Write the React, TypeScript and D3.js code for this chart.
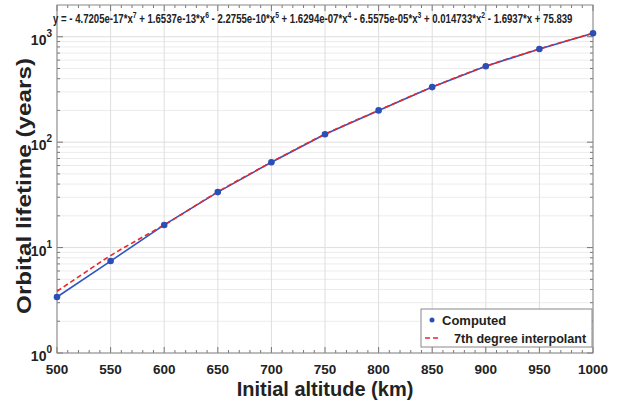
import React, { useRef, useEffect } from "react";
import * as d3 from "d3";

// computed orbital lifetime (years) vs initial altitude (km)
const altitudes = [500, 550, 600, 650, 700, 750, 800, 850, 900, 950, 1000];
const lifetimes = [3.4, 7.45, 16.4, 33.6, 64.5, 119, 200, 333, 525, 765, 1080];

// 7th degree interpolant
const fitAltitudes = [500, 525, 550, 575, 600, 650, 700, 750, 800, 850, 900, 950, 1000];
const fitLifetimes = [3.85, 5.7, 8.4, 11.8, 16.4, 33.8, 64.5, 119, 200, 333, 525, 765, 1080];

const xTicks = [500, 550, 600, 650, 700, 750, 800, 850, 900, 950, 1000];
const yDecades = [0, 1, 2, 3];

const equation =
  "y = - 4.7205e-17*x^7 + 1.6537e-13*x^6 - 2.2755e-10*x^5 + 1.6294e-07*x^4 - 6.5575e-05*x^3 + 0.014733*x^2 - 1.6937*x + 75.839";

const W = 625;
const H = 406;

const App = () => {
  const ref = useRef<SVGSVGElement>(null);

  useEffect(() => {
    const svg = d3.select(ref.current);
    svg.selectAll("*").remove();

    const left = 57, right = 593, top = 5, bottom = 353;
    const x = d3.scaleLinear([500, 1000], [left, right]);
    const y = d3.scaleLog([1, 2000], [bottom, top]);

    svg.append("rect").attr("width", W).attr("height", H).attr("fill", "white");

    // minor grid
    const minorY: number[] = [];
    yDecades.forEach(d => {
      for (let k = 2; k <= 9; k++) {
        const v = k * Math.pow(10, d);
        if (v < 2000) minorY.push(v);
      }
    });
    svg.append("g").selectAll("line").data(minorY).enter().append("line")
      .attr("x1", left).attr("x2", right)
      .attr("y1", d => y(d)).attr("y2", d => y(d))
      .attr("stroke", "#ececec").attr("stroke-width", 1);

    // major grid
    svg.append("g").selectAll("line").data(yDecades).enter().append("line")
      .attr("x1", left).attr("x2", right)
      .attr("y1", d => y(Math.pow(10, d))).attr("y2", d => y(Math.pow(10, d)))
      .attr("stroke", "#dedede");
    svg.append("g").selectAll("line").data(xTicks).enter().append("line")
      .attr("x1", d => x(d)).attr("x2", d => x(d))
      .attr("y1", top).attr("y2", bottom)
      .attr("stroke", "#dedede");

    // minor ticks on all four sides
    const minorX = d3.range(500, 1001, 10);
    const tickG = svg.append("g").attr("stroke", "#777");
    minorX.forEach(v => {
      const len = v % 50 === 0 ? 6 : 3;
      tickG.append("line").attr("x1", x(v)).attr("x2", x(v)).attr("y1", bottom).attr("y2", bottom - len);
      tickG.append("line").attr("x1", x(v)).attr("x2", x(v)).attr("y1", top).attr("y2", top + len);
    });
    minorY.concat(yDecades.map(d => Math.pow(10, d))).forEach(v => {
      const len = [1, 10, 100, 1000].includes(v) ? 6 : 3;
      tickG.append("line").attr("x1", left).attr("x2", left + len).attr("y1", y(v)).attr("y2", y(v));
      tickG.append("line").attr("x1", right).attr("x2", right - len).attr("y1", y(v)).attr("y2", y(v));
    });

    svg.append("rect")
      .attr("x", left).attr("y", top).attr("width", right - left).attr("height", bottom - top)
      .attr("fill", "none").attr("stroke", "#888");

    // x tick labels
    svg.append("g").selectAll("text").data(xTicks).enter().append("text")
      .attr("x", d => x(d)).attr("y", bottom + 21)
      .attr("text-anchor", "middle")
      .attr("font-family", "Liberation Sans, Arial, sans-serif")
      .attr("font-weight", "bold").attr("font-size", 13.5).attr("fill", "#222")
      .text(d => d);

    // y tick labels 10^n
    const yl = svg.append("g")
      .attr("font-family", "Liberation Sans, Arial, sans-serif")
      .attr("font-weight", "bold").attr("fill", "#222");
    yDecades.forEach(d => {
      const t = yl.append("text")
        .attr("x", left - 5).attr("y", y(Math.pow(10, d)) + 8)
        .attr("text-anchor", "end").attr("font-size", 14);
      t.append("tspan").text("10");
      t.append("tspan").attr("dy", -8).attr("font-size", 10).text(d);
    });

    // axis titles
    svg.append("text")
      .attr("x", 325).attr("y", 396)
      .attr("text-anchor", "middle")
      .attr("font-family", "Liberation Sans, Arial, sans-serif")
      .attr("font-weight", "bold").attr("font-size", 20).attr("fill", "#222")
      .text("Initial altitude (km)");
    svg.append("text")
      .attr("transform", "translate(31,186) rotate(-90)")
      .attr("text-anchor", "middle")
      .attr("font-family", "Liberation Sans, Arial, sans-serif")
      .attr("font-weight", "bold").attr("font-size", 21).attr("fill", "#222")
      .attr("textLength", 256).attr("lengthAdjust", "spacingAndGlyphs")
      .text("Orbital lifetime (years)");

    // equation, superscripts as raised tspans
    const eqX = 53;
    const eq = svg.append("text")
      .attr("x", eqX).attr("y", 23)
      .attr("font-family", "Liberation Sans, Arial, sans-serif")
      .attr("font-weight", "bold").attr("font-size", 12).attr("fill", "#222");
    let raised = false;
    equation.split(/(\^\d)/).forEach(part => {
      if (part === "") return;
      if (part.startsWith("^")) {
        eq.append("tspan").attr("dy", -5).attr("font-size", 8.5).text(part.slice(1));
        raised = true;
      } else {
        eq.append("tspan").attr("dy", raised ? 5 : 0).text(part);
        raised = false;
      }
    });
    const len = (eq.node() as SVGTextElement).getComputedTextLength();
    if (len > 0) eq.attr("transform", `translate(${eqX},0) scale(${520 / len},1) translate(${-eqX},0)`);

    // computed line
    const line = d3.line<number>()
      .x(i => x(altitudes[i]))
      .y(i => y(lifetimes[i]));
    svg.append("path")
      .attr("fill", "none").attr("stroke", "#2f55c0").attr("stroke-width", 1.6)
      .attr("d", line(d3.range(altitudes.length)));

    // interpolant
    const fit = d3.line<number>()
      .curve(d3.curveMonotoneX)
      .x(i => x(fitAltitudes[i]))
      .y(i => y(fitLifetimes[i]));
    svg.append("path")
      .attr("fill", "none").attr("stroke", "#e8282a").attr("stroke-width", 1.6)
      .attr("stroke-dasharray", "5,3")
      .attr("d", fit(d3.range(fitAltitudes.length)));

    svg.append("g").selectAll("circle").data(d3.range(altitudes.length)).enter().append("circle")
      .attr("cx", i => x(altitudes[i])).attr("cy", i => y(lifetimes[i]))
      .attr("r", 3.3).attr("fill", "#2a4fb5");

    // legend
    const lg = svg.append("g").attr("transform", "translate(421,309)");
    lg.append("rect").attr("width", 171).attr("height", 38)
      .attr("fill", "white").attr("stroke", "#888");
    lg.append("circle").attr("cx", 11).attr("cy", 11).attr("r", 2.5).attr("fill", "#2a4fb5");
    lg.append("text").attr("x", 21).attr("y", 16)
      .attr("font-family", "Liberation Sans, Arial, sans-serif")
      .attr("font-weight", "bold").attr("font-size", 13).attr("fill", "#222")
      .text("Computed");
    lg.append("line").attr("x1", 4).attr("x2", 20).attr("y1", 29).attr("y2", 29)
      .attr("stroke", "#e8282a").attr("stroke-width", 1.6).attr("stroke-dasharray", "5,3");
    lg.append("text").attr("x", 33).attr("y", 34)
      .attr("font-family", "Liberation Sans, Arial, sans-serif")
      .attr("font-weight", "bold").attr("font-size", 12.6).attr("fill", "#222")
      .text("7th degree interpolant");
  }, []);

  return (
    <div style={{ position: "fixed", left: 0, top: 0 }}>
      <svg ref={ref} width={W} height={H} style={{ display: "block" }}></svg>
    </div>
  );
};

export default App;
